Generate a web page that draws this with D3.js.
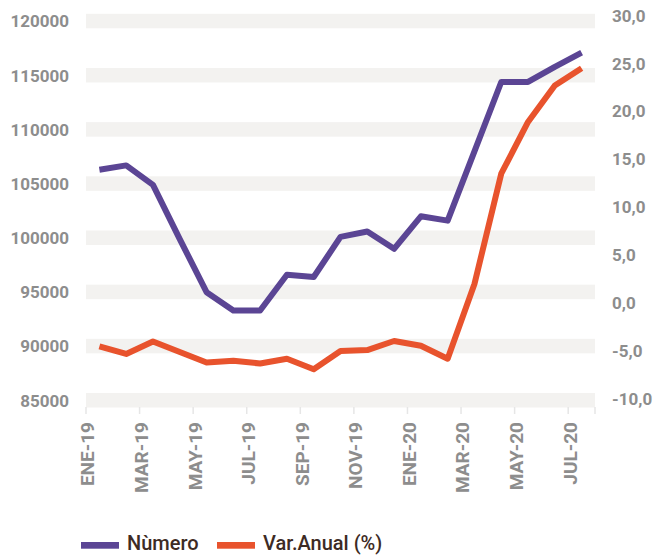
<!DOCTYPE html>
<html>
<head>
<meta charset="utf-8">
<script src="https://cdn.jsdelivr.net/npm/d3@7"></script>
<style>
	body { margin: 0; background: #fff; }
	svg { display: block; font-family: Roboto, "Noto Sans", sans-serif; }
</style>
</head>
<body>
<svg id="chart" width="667" height="556"></svg>
<script>
var months = ["ENE-19", "FEB-19", "MAR-19", "ABR-19", "MAY-19", "JUN-19", "JUL-19", "AGO-19", "SEP-19", "OCT-19",
	"NOV-19", "DIC-19", "ENE-20", "FEB-20", "MAR-20", "ABR-20", "MAY-20", "JUN-20", "JUL-20"];
var numero = [106300, 106700, 104900, 99900, 95000, 93300, 93300, 96600, 96400, 100100,
	100600, 99000, 102000, 101600, 108000, 114400, 114400, 115800, 117100];
var varAnual = [-4.5, -5.3, -4.0, -5.1, -6.2, -6.0, -6.3, -5.8, -6.9, -5.0,
	-4.9, -3.95, -4.45, -5.8, 2.0, 13.5, 18.9, 22.7, 24.5];
var leftTicks = [85000, 90000, 95000, 100000, 105000, 110000, 115000, 120000];
var rightTicks = [-10, -5, 0, 5, 10, 15, 20, 25, 30];
var labelMonths = ["ENE-19", "MAR-19", "MAY-19", "JUL-19", "SEP-19", "NOV-19", "ENE-20", "MAR-20", "MAY-20", "JUL-20"];

var colour = ["#5b4594", "#e8532d"];
var svg = d3.select("#chart");

var x = d3.scaleBand().domain(months).range([86, 595]).paddingInner(0).paddingOuter(0);
var yL = d3.scaleLinear().domain([85000, 120000]).range([400.5, 21.3]);
var yR = d3.scaleLinear().domain([-10, 30]).range([399, 15.5]);

// grey bands behind the left axis ticks
svg.append("g").selectAll("rect")
		.data(leftTicks)
		.enter()
	  .append("rect")
		.attr("x", 86)
		.attr("width", 509)
		.attr("y", function (d) { return yL(d) - 7.5; })
		.attr("height", 14.5)
		.attr("fill", "#f3f2f0");

// x tick marks at band edges, every two months
var tickPos = labelMonths.map(function (m) { return x(m); }).concat([595]);
svg.append("g").selectAll("line")
		.data(tickPos)
		.enter()
	  .append("line")
		.attr("x1", function (d) { return d; })
		.attr("x2", function (d) { return d; })
		.attr("y1", 407)
		.attr("y2", 414)
		.attr("stroke", "#e6e6e6")
		.attr("stroke-width", 1.5);

svg.append("g").selectAll("text")
		.data(labelMonths)
		.enter()
	  .append("text")
		.attr("transform", function (d) { return "translate(" + (x(d) + 1.5) + ",422) rotate(-90)"; })
		.attr("text-anchor", "end")
		.attr("dy", "0.36em")
		.attr("font-size", 19)
		.attr("font-weight", 700)
		.attr("fill", "#8d8d8d")
		.text(function (d) { return d; });

svg.append("g").selectAll("text")
		.data(leftTicks)
		.enter()
	  .append("text")
		.attr("x", 69)
		.attr("y", function (d) { return yL(d); })
		.attr("dy", "0.36em")
		.attr("text-anchor", "end")
		.attr("font-size", 17)
		.attr("font-weight", 700)
		.attr("fill", "#8d8d8d")
		.text(function (d) { return d; });

svg.append("g").selectAll("text")
		.data(rightTicks)
		.enter()
	  .append("text")
		.attr("x", 612)
		.attr("y", function (d) { return yR(d); })
		.attr("dy", "0.36em")
		.attr("font-size", 17)
		.attr("font-weight", 700)
		.attr("fill", "#8d8d8d")
		.text(function (d) { return d3.format(".1f")(d).replace(".", ",").replace("−", "-"); });

var cx = function (d, i) { return x(months[i]) + x.bandwidth() / 2; };

var lineL = d3.line().x(cx).y(function (d) { return yL(d); });
var lineR = d3.line().x(cx).y(function (d) { return yR(d); });

svg.append("path")
	.attr("d", lineR(varAnual))
	.attr("fill", "none")
	.attr("stroke", colour[1])
	.attr("stroke-width", 6)
	.attr("stroke-linejoin", "round");

svg.append("path")
	.attr("d", lineL(numero))
	.attr("fill", "none")
	.attr("stroke", colour[0])
	.attr("stroke-width", 6)
	.attr("stroke-linejoin", "round");

// legend
var legend = [
	{ name: "Nùmero", sx: 81, tx: 127 },
	{ name: "Var.Anual (%)", sx: 217, tx: 263 }
];
var lg = svg.append("g").selectAll("g")
		.data(legend)
		.enter()
	  .append("g");
lg.append("rect")
	.attr("x", function (d) { return d.sx; })
	.attr("y", 542)
	.attr("width", 38)
	.attr("height", 6.7)
	.attr("fill", function (d, i) { return colour[i]; });
lg.append("text")
	.attr("x", function (d) { return d.tx; })
	.attr("y", 549.5)
	.attr("font-size", 20)
	.attr("font-weight", 500)
	.attr("fill", "#3d2b24")
	.text(function (d) { return d.name; });
</script>
</body>
</html>
